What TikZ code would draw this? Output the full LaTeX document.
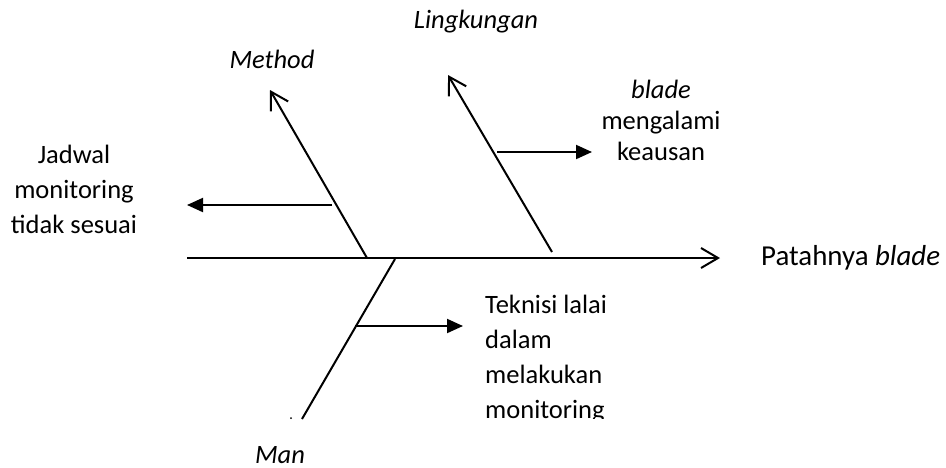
\documentclass[tikz,border=0pt]{standalone}
\usepackage{fontspec}
\setmainfont{Carlito}
\usetikzlibrary{arrows.meta}

\begin{document}
\begin{tikzpicture}[x=1pt,y=-1pt,
  bone/.style={line width=2pt, -{Straight Barb[length=17pt,width=20pt,line width=2pt]}},
  cause/.style={line width=2pt, -{Triangle[length=16pt,width=14pt]}},
  lbl/.style={font=\fontsize{26.5}{35}\selectfont, inner sep=0pt}]
\useasboundingbox (0,0) rectangle (946,467);

% -------------------------------------------------
% Tulang utama
% -------------------------------------------------
\coordinate (spineL) at (187,258);
\coordinate (spineR) at (720,258);
\draw[bone] (spineL) -- (spineR);
\node[lbl, font=\fontsize{28.9}{35}\selectfont, anchor=base west] (effect) at (761,265) {Patahnya \textit{blade}};

% -------------------------------------------------
% Method
% -------------------------------------------------
\coordinate (methodA) at (367,258);
\coordinate (methodB) at (270,90);
\draw[bone] (methodA) -- (methodB);
\node[lbl, anchor=base] (method) at (272,68) {\textit{Method}};
\coordinate (methodC) at (332,205);
\coordinate (methodD) at (187,205);
\draw[cause] (methodC) -- (methodD);
\node[lbl, anchor=base] (jadwal1) at (74,163) {Jadwal};
\node[lbl, anchor=base] (jadwal2) at (74,198) {monitoring};
\node[lbl, anchor=base] (jadwal3) at (74,233) {tidak sesuai};

% -------------------------------------------------
% Lingkungan
% -------------------------------------------------
\coordinate (lingA) at (552,252);
\coordinate (lingB) at (448,75);
\draw[bone] (lingA) -- (lingB);
\node[lbl, anchor=base] (ling) at (476,28) {\textit{Lingkungan}};
\coordinate (lingC) at (497,152);
\coordinate (lingD) at (592,152);
\draw[cause] (lingC) -- (lingD);
\node[lbl, anchor=base] (blade1) at (661,98) {\textit{blade}};
\node[lbl, anchor=base] (blade2) at (661,129) {mengalami};
\node[lbl, anchor=base] (blade3) at (661,160) {keausan};

% -------------------------------------------------
% Man
% -------------------------------------------------
\coordinate (manA) at (395,259);
\coordinate (manB) at (302,419);
\draw[line width=2pt] (manA) -- (manB);
\fill (291,418) circle (1);
\node[lbl, anchor=base] (man) at (280,463) {\textit{Man}};
\coordinate (manC) at (355,326);
\coordinate (manD) at (463,326);
\draw[cause] (manC) -- (manD);
\begin{scope}
  \clip (470,280) rectangle (700,418);
  \node[lbl, anchor=base west] (teknisi1) at (485,313) {Teknisi lalai};
  \node[lbl, anchor=base west] (teknisi2) at (485,348) {dalam};
  \node[lbl, anchor=base west] (teknisi3) at (485,383) {melakukan};
  \node[lbl, anchor=base west] (teknisi4) at (485,418) {monitoring};
\end{scope}

\end{tikzpicture}
\end{document}
